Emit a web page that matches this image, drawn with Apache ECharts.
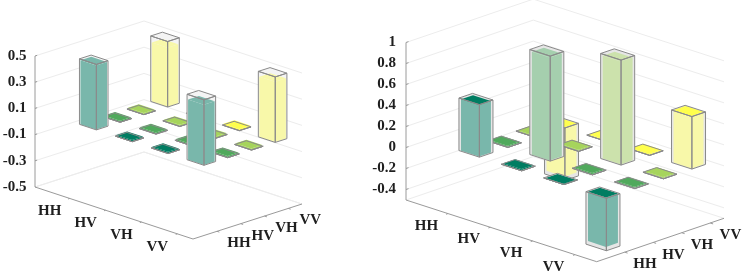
<!DOCTYPE html>
<html>
<head>
<meta charset="utf-8">
<style>html,body{margin:0;padding:0;background:#fff}#chart{width:747px;height:273px;filter:blur(0.4px)}</style>
<script src="https://cdn.jsdelivr.net/npm/echarts@6/dist/echarts.min.js"></script>
</head>
<body>
<div id="chart"></div>
<script>
// ---- data ----
const rowLabels = ['HH', 'HV', 'VH', 'VV'];
const colLabels = ['HH', 'HV', 'VH', 'VV'];
const leftZTicks = ['0.5', '0.3', '0.1', '-0.1', '-0.3', '-0.5'];
const rightZTicks = ['1', '0.8', '0.6', '0.4', '0.2', '0', '-0.2', '-0.4'];
// rows = HH..VV along the front-left axis, columns = HH..VV along the front-right axis
const leftIdeal = [
  [0.5, 0, 0, 0.5],
  [0, 0, 0, 0],
  [0, 0, 0, 0],
  [0.5, 0, 0, 0.5]
];
const leftMeasured = [
  [0.49, 0.01, 0.01, 0.45],
  [0.01, 0.01, 0.01, 0.01],
  [0.01, 0.01, 0.01, 0.01],
  [0.46, 0.01, 0.01, 0.46]
];
const rightIdeal = [
  [0.5, 0, 0, -0.5],
  [0, 1, 0, 0],
  [0, 0, 1, 0],
  [-0.5, 0, 0, 0.5]
];
const rightMeasured = [
  [0.49, 0.01, 0.01, -0.47],
  [0.01, 0.98, 0.01, 0.01],
  [-0.01, 0.01, 0.98, 0.01],
  [-0.47, 0.01, 0.01, 0.5]
];

// ---- colours (MATLAB summer-like, by column) ----
const solidColors = ['#007d62', '#50a95c', '#a6d45c', '#ffff4d'];
const paleColors = ['#79b7ab', '#a5cfae', '#cce2ac', '#f8f8a9'];
const edgeColor = '#8a8a8a';
const gridColor = '#ececec';
const axisColor = '#9a9a9a';
const textColor = '#1f1f1f';
const labelFont = 'bold 15px "Liberation Serif", "Times New Roman", serif';

// ---- 3D projections of each panel ----
const leftPanel = {
  origin: [35, 187], e1: [158, 52], e2: [109, -35],
  zMin: -0.5, zMax: 0.5, zScale: 131,
  aStart: 0.22, aStep: 0.227, bStart: 0.22, bStep: 0.218,
  barWidth: 0.107, inner: 0.93, solidLimit: 0.1, ring: '#f4f4f4',
  zLabelGap: 8.5, rowLabelOffset: [-20, 12.8], colLabelOffset: [22, 12],
  zTicks: leftZTicks, ideal: leftIdeal, measured: leftMeasured
};
const rightPanel = {
  origin: [406, 200], e1: [190.7, 61.7], e2: [127.3, -43.4],
  zMin: -0.5, zMax: 1, zScale: 105,
  aStart: 0.22, aStep: 0.222, bStart: 0.22, bStep: 0.224,
  barWidth: 0.107, inner: 0.88, solidLimit: 0.7, ring: '#e6e6e6',
  zLabelGap: 10, rowLabelOffset: [-21.5, 12.2], colLabelOffset: [20.2, 12.4],
  zTicks: rightZTicks, ideal: rightIdeal, measured: rightMeasured
};

function project(p, a, b, z) {
  return [
    p.origin[0] + a * p.e1[0] + b * p.e2[0],
    p.origin[1] + a * p.e1[1] + b * p.e2[1] - (z - p.zMin) * p.zScale
  ];
}
function poly(api, pts, style) {
  return { type: 'polygon', shape: { points: pts.map(q => api.coord(q)) }, style: style, silent: true };
}
function line(api, pts, color, width) {
  return {
    type: 'polyline', shape: { points: pts.map(q => api.coord(q)) }, silent: true,
    style: { stroke: color, lineWidth: width, fill: null, lineJoin: 'round' }
  };
}
function prism(p, a, b, h, zTop, zBot) {
  const P = (da, db, z) => project(p, a + da * h, b + db * h, z);
  return {
    topFace: [P(-1, -1, zTop), P(1, -1, zTop), P(1, 1, zTop), P(-1, 1, zTop)],
    leftFace: [P(-1, -1, zTop), P(1, -1, zTop), P(1, -1, zBot), P(-1, -1, zBot)],
    rightFace: [P(1, -1, zTop), P(1, 1, zTop), P(1, 1, zBot), P(1, -1, zBot)]
  };
}

function barRenderer(p) {
  return function (params, api) {
    const i = api.value(0), j = api.value(1), v = api.value(2), ideal = api.value(3);
    const a = p.aStart + i * p.aStep, b = p.bStart + j * p.bStep;
    const h = p.barWidth / 2;
    const wire = prism(p, a, b, h, Math.max(ideal, 0), Math.min(ideal, 0));
    const fill = prism(p, a, b, h * p.inner, Math.max(v, 0), Math.min(v, 0));
    const pale = paleColors[j];
    const solidTop = Math.abs(v) < p.solidLimit;
    const children = [];
    // outer (ideal) box
    [wire.leftFace, wire.rightFace, wire.topFace].forEach(f =>
      children.push(poly(api, f, { fill: p.ring })));
    // inner (measured) bar
    children.push(poly(api, fill.leftFace, { fill: solidTop && Math.abs(v) < 0.1 ? solidColors[j] : pale }));
    children.push(poly(api, fill.rightFace, { fill: solidTop && Math.abs(v) < 0.1 ? solidColors[j] : pale }));
    children.push(poly(api, fill.topFace, { fill: solidTop ? solidColors[j] : pale }));
    // outer box edges
    [wire.leftFace, wire.rightFace, wire.topFace].forEach(f =>
      children.push(line(api, f.concat([f[0]]), edgeColor, 1)));
    return { type: 'group', children: children };
  };
}

function wallRenderer(p) {
  return function (params, api) {
    const z = api.value(0);
    const children = [
      line(api, [project(p, 0, 0, z), project(p, 0, 1, z), project(p, 1, 1, z)], gridColor, 1)
    ];
    const t0 = project(p, 0, 0, z), t1 = project(p, 0, 0.02, z);
    children.push(line(api, [t0, t1], axisColor, 1));
    const c = api.coord(t0);
    children.push({
      type: 'text', x: c[0] - p.zLabelGap, y: c[1], silent: true,
      style: { text: p.zTicks[params.dataIndex], font: labelFont, fill: textColor, align: 'right', verticalAlign: 'middle' }
    });
    return { type: 'group', children: children };
  };
}

function frameRenderer(p) {
  return function (params, api) {
    return {
      type: 'group',
      children: [
        line(api, [project(p, 0, 0, p.zMin), project(p, 0, 1, p.zMin), project(p, 1, 1, p.zMin)], gridColor, 1),
        line(api, [project(p, 0, 0, p.zMax), project(p, 0, 0, p.zMin), project(p, 1, 0, p.zMin), project(p, 1, 1, p.zMin)], axisColor, 1)
      ]
    };
  };
}

function rowRenderer(p) {
  return function (params, api) {
    const i = api.value(0), a = p.aStart + i * p.aStep;
    const t0 = project(p, a, 0, p.zMin), c = api.coord(t0);
    return {
      type: 'group',
      children: [
        line(api, [t0, project(p, a, -0.015, p.zMin)], axisColor, 1),
        { type: 'text', x: c[0] + p.rowLabelOffset[0], y: c[1] + p.rowLabelOffset[1], silent: true,
          style: { text: rowLabels[i], font: labelFont, fill: textColor, align: 'center', verticalAlign: 'middle' } }
      ]
    };
  };
}
function colRenderer(p) {
  return function (params, api) {
    const j = api.value(0), b = p.bStart + j * p.bStep;
    const t0 = project(p, 1, b, p.zMin), c = api.coord(t0);
    return {
      type: 'group',
      children: [
        line(api, [t0, project(p, 1.015, b, p.zMin)], axisColor, 1),
        { type: 'text', x: c[0] + p.colLabelOffset[0], y: c[1] + p.colLabelOffset[1], silent: true,
          style: { text: colLabels[j], font: labelFont, fill: textColor, align: 'center', verticalAlign: 'middle' } }
      ]
    };
  };
}

function barData(p) {
  const out = [];
  p.measured.forEach((row, i) => row.forEach((v, j) => out.push([i, j, v, p.ideal[i][j]])));
  // painter's order: far cells first
  return out.sort((x, y) => (x[0] - x[1]) - (y[0] - y[1]));
}
function custom(render, data, z) {
  return { type: 'custom', renderItem: render, data: data, z: z, clip: false, silent: true, animation: false, encode: { x: 0, y: 1 } };
}
function panelSeries(p) {
  const zVals = p.zTicks.map(Number);
  const idx = rowLabels.map((_, k) => [k, 0]);
  return [
    custom(wallRenderer(p), zVals.map(z => [z, 0]), 2),
    custom(frameRenderer(p), [[0, 0]], 3),
    custom(rowRenderer(p), idx, 4),
    custom(colRenderer(p), idx, 4),
    custom(barRenderer(p), barData(p), 5)
  ];
}

const chart = echarts.init(document.getElementById('chart'), null, { renderer: 'canvas' });
chart.setOption({
  animation: false,
  backgroundColor: '#ffffff',
  tooltip: { show: false },
  grid: { left: 0, right: 0, top: 0, bottom: 0 },
  xAxis: { type: 'value', min: 0, max: 747, show: false },
  yAxis: { type: 'value', min: 0, max: 273, inverse: true, show: false },
  series: panelSeries(leftPanel).concat(panelSeries(rightPanel))
});
</script>
</body>
</html>
